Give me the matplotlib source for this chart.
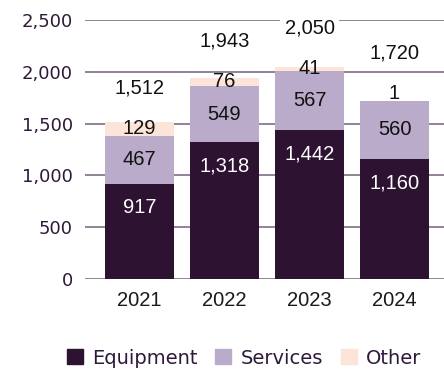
import numpy as np
import matplotlib.pyplot as plt
from matplotlib.patches import Patch

# ── data ──────────────────────────────────────────────────────────────────────

years = ["2021", "2022", "2023", "2024"]
equipment = [917, 1318, 1442, 1160]
services = [467, 549, 567, 560]
other = [129, 76, 41, 1]
totals = [1512, 1943, 2050, 1720]
yticks = [0, 500, 1000, 1500, 2000, 2500]

# ── style ─────────────────────────────────────────────────────────────────────

c_equip = "#2d1331"
c_serv = "#b9abc9"
c_other = "#fde4d8"
c_grid = "#7f6e84"
c_axis_txt = "#2e1a38"
lab_font = "Liberation Sans"
axis_font = "DejaVu Sans"

fig = plt.figure(figsize=(4.44, 3.72), dpi=100)
ax = fig.add_axes([85 / 444, 1 - 279 / 372, 359 / 444, 259 / 372])

x = np.arange(len(years))
w = 0.81
equip = np.array(equipment)
serv = np.array(services)
oth = np.array(other)

ax.bar(x, equip, w, color=c_equip, zorder=2)
ax.bar(x, serv, w, bottom=equip, color=c_serv, zorder=2)
ax.bar(x, oth, w, bottom=equip + serv, color=c_other, zorder=2)

ax.set_xlim(-0.641, 3.582)
ax.set_ylim(0, 2500)
ax.set_yticks(yticks)
ax.set_yticklabels([f"{v:,}" for v in yticks], fontfamily=axis_font,
                   fontsize=13, color=c_axis_txt)
ax.set_xticks(x)
ax.set_xticklabels(years, fontfamily=lab_font, fontsize=14.5, color="#1a1a1a")
ax.tick_params(axis="y", length=0, pad=8.6)
ax.tick_params(axis="x", length=0, pad=9)
ax.yaxis.grid(True, color=c_grid, lw=1.2, zorder=0)
ax.set_axisbelow(True)
for s in ax.spines.values():
    s.set_visible(False)

# ── labels ────────────────────────────────────────────────────────────────────

for i in range(len(years)):
    e, s, o = equipment[i], services[i], other[i]
    ax.annotate(f"{e:,}", (x[i], e), xytext=(0, -24), textcoords="offset pixels",
                ha="center", va="center", color="white",
                fontfamily=lab_font, fontsize=14.5, zorder=4)
    ax.text(x[i], e + s / 2, f"{s:,}", ha="center", va="center",
            color="#111111", fontfamily=lab_font, fontsize=14.5, zorder=4)
    top = e + s + o
    if o < 20:
        opos, ooff = top, 7
    else:
        opos, ooff = e + s + o / 2, 0
    ax.annotate(f"{o:,}", (x[i], opos), xytext=(0, ooff), textcoords="offset pixels",
                ha="center", va="center", color="#111111",
                fontfamily=lab_font, fontsize=14.5, zorder=4)
    ax.annotate(f"{totals[i]:,}", (x[i], opos), xytext=(0, ooff + 41),
                textcoords="offset pixels", ha="center", va="center",
                color="#111111", fontfamily=lab_font, fontsize=14.5, zorder=4,
                bbox=dict(boxstyle="square,pad=0.2", fc="white", ec="none"))

# ── legend ────────────────────────────────────────────────────────────────────

handles = [Patch(color=c_equip, label="Equipment"),
           Patch(color=c_serv, label="Services"),
           Patch(color=c_other, label="Other")]
leg = fig.legend(handles=handles, loc="center", bbox_to_anchor=(244 / 444, 1 - 358 / 372),
                 ncol=3, frameon=False, handlelength=0.82, handleheight=0.82,
                 handletextpad=0.46, columnspacing=0.93, borderpad=0,
                 prop={"family": axis_font, "size": 14})
for t in leg.get_texts():
    t.set_color(c_axis_txt)

fig.savefig("out.png", dpi=100)
